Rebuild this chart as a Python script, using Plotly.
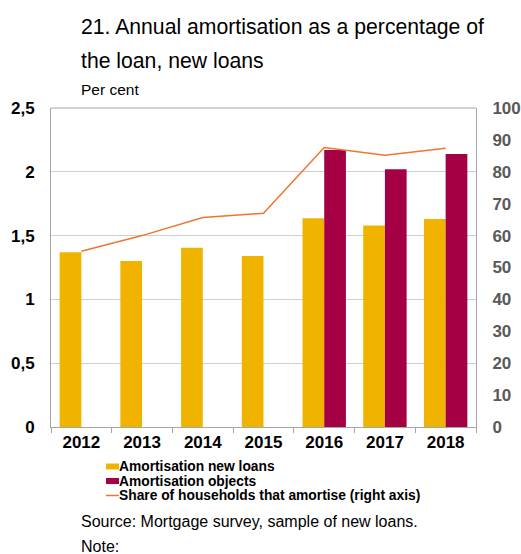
import plotly.graph_objects as go

years = ["2012", "2013", "2014", "2015", "2016", "2017", "2018"]
amort_new_loans = [1.37, 1.30, 1.405, 1.34, 1.635, 1.58, 1.63]
amort_objects = [None, None, None, None, 2.17, 2.02, 2.14]
share_amortise = [55.1, 60.0, 65.7, 67.0, 87.6, 85.2, 87.4]

left_ticks = [0, 0.5, 1, 1.5, 2, 2.5]
left_tick_text = ["0", "0,5", "1", "1,5", "2", "2,5"]
right_ticks = list(range(0, 101, 10))
right_tick_text = [str(v) for v in right_ticks]

FONT = "Liberation Sans, Arial, sans-serif"
YELLOW = "#F0B400"
CRIMSON = "#A50044"
ORANGE = "#EE7630"
GRID = "#CFCFCF"
AXIS = "#A6A6A6"

W, H = 521, 554
ML, MR, MT, MB = 51, 45, 108, 127
PW, PH = W - ML - MR, H - MT - MB


def px_to_paper(px, py):
    return (px - ML) / PW, (H - MB - py) / PH


fig = go.Figure()
fig.add_trace(go.Bar(x=years, y=amort_new_loans, name="Amortisation new loans",
                     marker=dict(color=YELLOW, line=dict(width=0))))
fig.add_trace(go.Bar(x=years, y=amort_objects, name="Amortisation objects",
                     marker=dict(color=CRIMSON, line=dict(width=0))))
fig.add_trace(go.Scatter(x=years, y=share_amortise, yaxis="y2", mode="lines",
                         name="Share of households that amortise (right axis)",
                         line=dict(color=ORANGE, width=1.5)))

fig.update_layout(
    width=W, height=H,
    margin=dict(l=ML, r=MR, t=MT, b=MB, autoexpand=False),
    paper_bgcolor="white", plot_bgcolor="white",
    font=dict(family=FONT, color="black"),
    barmode="group", bargap=0.285, bargroupgap=0,
    showlegend=False,
    xaxis=dict(type="category", automargin=False,
               showgrid=False, showline=True, linecolor=AXIS,
               linewidth=1, ticks="outside", tickson="boundaries", ticklen=5,
               tickcolor=AXIS,
               tickfont=dict(size=17, color="black", family=FONT, weight="bold")),
    yaxis=dict(range=[0, 2.5], tickvals=left_ticks, ticktext=left_tick_text,
               automargin=False,
               showgrid=True, gridcolor=GRID, gridwidth=1, showline=True,
               linecolor=AXIS, linewidth=1, zeroline=False, ticks="",
               ticklabelstandoff=12,
               tickfont=dict(size=17, color="black", family=FONT, weight="bold")),
    yaxis2=dict(range=[0, 100], tickvals=right_ticks, ticktext=right_tick_text,
                automargin=False,
                overlaying="y", side="right", showgrid=False, showline=True,
                linecolor=AXIS, linewidth=1, zeroline=False, ticks="",
                ticklabelstandoff=12,
                tickfont=dict(size=17, color="#595959", family=FONT, weight="bold")),
)

# top border of the plot area
fig.add_shape(type="line", xref="paper", yref="paper", x0=0, x1=1, y0=1, y1=1,
              line=dict(color=AXIS, width=1))

# hand-drawn legend: small swatches with bold labels right next to them
legend_rows = [
    ("Amortisation new loans", YELLOW, "bar", 466.5),
    ("Amortisation objects", CRIMSON, "bar", 481),
    ("Share of households that amortise (right axis)", ORANGE, "line", 495.5),
]
for label, color, kind, py in legend_rows:
    x0, y0 = px_to_paper(106, py - 3)
    x1, y1 = px_to_paper(119, py + 3)
    if kind == "bar":
        fig.add_shape(type="rect", xref="paper", yref="paper", x0=x0, x1=x1,
                      y0=y1, y1=y0, fillcolor=color, line=dict(width=0))
    else:
        _, ym = px_to_paper(106, py)
        fig.add_shape(type="line", xref="paper", yref="paper", x0=x0, x1=x1,
                      y0=ym, y1=ym, line=dict(color=color, width=1.5))
    tx, ty = px_to_paper(119, py)
    fig.add_annotation(text=f"<b>{label}</b>", xref="paper", yref="paper",
                       x=tx, y=ty, showarrow=False, xanchor="left", yanchor="middle",
                       xshift=-2, font=dict(size=13.8, color="black", family=FONT))

texts = [
    ("21. Annual amortisation as a percentage of", 81, 27, 21.2),
    ("the loan, new loans", 81, 60, 21.2),
    ("Per cent", 81, 89, 15.5),
    ("Source: Mortgage survey, sample of new loans.", 81, 521, 16),
    ("Note:", 81, 546, 16),
]
for txt, px, py, size in texts:
    tx, ty = px_to_paper(px, py)
    fig.add_annotation(text=txt, xref="paper", yref="paper", x=tx, y=ty,
                       showarrow=False, xanchor="left", yanchor="middle",
                       xshift=-2, font=dict(size=size, color="black", family=FONT))

fig.write_html("out.html")
